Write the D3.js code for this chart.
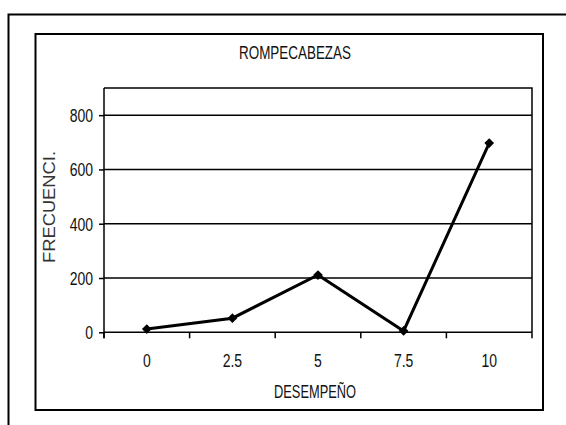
<!DOCTYPE html>
<html><head><meta charset="utf-8">
<script src="https://cdn.jsdelivr.net/npm/d3@7"></script>
<style>
html,body{margin:0;padding:0;background:#fff;}
svg{display:block;}
</style></head>
<body>
<script>
const categories = ["0", "2.5", "5", "7.5", "10"];
const values = [12, 52, 211, 5, 697];
const yTicks = [0, 200, 400, 600, 800];
const title = "ROMPECABEZAS";
const xTitle = "DESEMPEÑO";
const yTitle = "FRECUENCI.";

const W = 566, H = 425;
const font = "'Liberation Sans',Arial,sans-serif";

const svg = d3.select("body").append("svg").attr("width", W).attr("height", H);

// condense text horizontally to mimic a narrow face
function condense(sel, k) {
  sel.each(function() {
    const len = this.getComputedTextLength();
    d3.select(this).attr("textLength", len * k).attr("lengthAdjust", "spacingAndGlyphs");
  });
}

// outer frame (only top and left visible)
svg.append("path").attr("d", "M8.5,425 V14.5 H566")
  .attr("fill", "none").attr("stroke", "#000").attr("stroke-width", 2);

// chart area box
svg.append("rect").attr("x", 35.5).attr("y", 34).attr("width", 507.5).attr("height", 376)
  .attr("fill", "#fff").attr("stroke", "#000").attr("stroke-width", 2);

const plot = {l: 104, r: 532, t: 88, b: 332.3};
const x = d3.scaleBand().domain(categories).range([plot.l, plot.r]);
const y = d3.scaleLinear().domain([0, 900]).range([plot.b, plot.t]);

// plot border (top & right)
svg.append("path").attr("d", `M${plot.l},${plot.t} H${plot.r} V${plot.b}`)
  .attr("fill", "none").attr("stroke", "#000").attr("stroke-width", 1.5);

// gridlines
svg.append("g").selectAll("line").data(yTicks.filter(d => d > 0)).join("line")
  .attr("x1", plot.l).attr("x2", plot.r)
  .attr("y1", d => y(d)).attr("y2", d => y(d))
  .attr("stroke", "#000").attr("stroke-width", 1.5);

// y axis
const yAxis = svg.append("g").attr("transform", `translate(${plot.l},0)`)
  .call(d3.axisLeft(y).tickValues(yTicks).tickSize(5).tickPadding(6).tickSizeOuter(0));
yAxis.select(".domain").attr("stroke", "#000").attr("stroke-width", 1.5)
  .attr("d", `M0,${plot.t}V${plot.b + 6}`);
yAxis.selectAll(".tick line").attr("stroke", "#000").attr("stroke-width", 1.5);
yAxis.selectAll(".tick text").attr("font-family", font).attr("font-size", 17.5).attr("fill", "#111")
  .attr("dy", "0.36em").call(condense, 0.8);

// x axis
const xAxis = svg.append("g").attr("transform", `translate(0,${plot.b})`)
  .call(d3.axisBottom(x).tickSize(0).tickPadding(0));
xAxis.select(".domain").attr("stroke", "#000").attr("stroke-width", 1.5)
  .attr("d", `M${plot.l},0H${plot.r}`);
xAxis.selectAll(".tick text").attr("font-family", font).attr("font-size", 17.5).attr("fill", "#111")
  .attr("y", 34.5).attr("dy", 0).call(condense, 0.8);
// boundary tick marks
const bounds = categories.map(c => x(c)).concat([plot.r]);
xAxis.append("g").selectAll("line").data(bounds).join("line")
  .attr("x1", d => d).attr("x2", d => d).attr("y1", 0).attr("y2", 6)
  .attr("stroke", "#000").attr("stroke-width", 1.5);

// line
const line = d3.line().x((d, i) => x(categories[i]) + x.bandwidth() / 2).y(d => y(d));
svg.append("path").datum(values).attr("d", line)
  .attr("fill", "none").attr("stroke", "#000").attr("stroke-width", 3).attr("stroke-linejoin", "miter");

// markers
svg.append("g").selectAll("path").data(values).join("path")
  .attr("transform", (d, i) => `translate(${x(categories[i]) + x.bandwidth() / 2},${y(d)})`)
  .attr("d", d3.symbol(d3.symbolDiamond2, 60)).attr("fill", "#000");

// titles
svg.append("text").attr("x", 295).attr("y", 59).attr("text-anchor", "middle")
  .attr("font-family", font).attr("font-size", 17.5).attr("fill", "#111")
  .attr("textLength", 112).attr("lengthAdjust", "spacingAndGlyphs").text(title);
svg.append("text").attr("x", 315).attr("y", 398).attr("text-anchor", "middle")
  .attr("font-family", font).attr("font-size", 17.5).attr("fill", "#111")
  .attr("textLength", 82).attr("lengthAdjust", "spacingAndGlyphs").text(xTitle);
svg.append("text").attr("transform", "translate(55,207) rotate(-90)").attr("text-anchor", "middle")
  .attr("font-family", font).attr("font-size", 16.5).attr("fill", "#333")
  .attr("textLength", 112).attr("lengthAdjust", "spacingAndGlyphs").text(yTitle);
</script>
</body></html>
